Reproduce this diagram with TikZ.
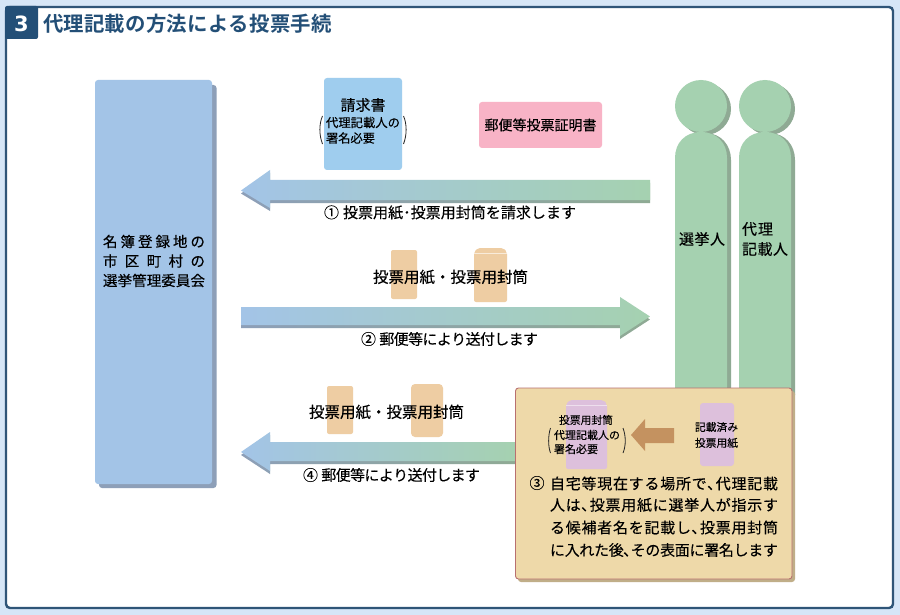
\documentclass[tikz,border=0pt]{standalone}
\usepackage{fontspec}
\setmainfont[FakeBold=0.2]{Noto Sans CJK JP}
\newfontfamily\boldjp{Noto Sans CJK JP Bold}
\newfontfamily\numfont{DejaVu Sans Bold}
\definecolor{pagebg}{HTML}{D6E6F7}
\definecolor{frame}{HTML}{2F5578}
\definecolor{tab}{HTML}{234F77}
\definecolor{blue}{HTML}{A3C4E7}
\definecolor{blueshadow}{HTML}{8D9FB8}
\definecolor{sky}{HTML}{9FCDEE}
\definecolor{pinkbox}{HTML}{F8B3C6}
\definecolor{green}{HTML}{A5D1B0}
\definecolor{greenshadow}{HTML}{8FAA94}
\definecolor{orangepaper}{HTML}{EECDA3}
\definecolor{sand}{HTML}{EED9A9}
\definecolor{sandshadow}{HTML}{C0AE88}
\definecolor{sandedge}{HTML}{B87070}
\definecolor{mauve}{HTML}{DDC0DC}
\definecolor{brownarrow}{HTML}{C49260}
\def\fitA#1{#1\futurelet\fitnext\fitB}
\def\fitB{\ifx\fitnext\relax\let\fitgo\fitEnd\else\hskip 0pt plus 1fil minus 1fil\let\fitgo\fitA\fi\fitgo}
\def\fitEnd\relax{}
\newcommand{\fit}[2]{\makebox[#1pt][s]{\fitA#2\relax}}
\newcommand{\fs}[1]{\fontsize{#1}{#1}\selectfont}
\tikzset{
  lbl/.style={inner sep=0pt,outer sep=0pt,text=black},
  parenline/.style={draw=black!85,line width=0.8pt},
  arrowshadow/.style={left color=blueshadow,right color=greenshadow,yshift=-3pt},
  arrowbody/.style={left color=blue,right color=green},
}
\begin{document}
\begin{tikzpicture}[x=1pt,y=-1pt]
\useasboundingbox (0,0) rectangle (900,615);
\fill[pagebg] (0,0) rectangle (900,615);
\draw[frame,line width=2.4pt,fill=white,rounded corners=4pt] (6,7) rectangle (893,608);
\fill[tab,rounded corners=2pt] (5,6) rectangle (38,39);
\node[lbl,text=white,font=\numfont\fs{21}] (num) at (21.5,24) {3};
\node[lbl,anchor=west,text=tab,font=\boldjp\fs{20.4}] (title) at (43,24) {\fit{289}{代理記載の方法による投票手続}};

% registry office
\fill[blueshadow,rounded corners=3pt] (99,85) rectangle (216.5,488);
\fill[blue,rounded corners=3pt] (95,80) rectangle (212,484);
\node[lbl,font=\fs{14.5},align=center] (office) at (154,261) {\fit{102}{名簿登録地の}\\[5pt]\fit{102}{市区町村の}\\[5pt]\fit{102}{選挙管理委員会}};

% request and certificate
\fill[sky,rounded corners=3pt] (324,78) rectangle (402,170);
\node[lbl,font=\fs{15}] (req) at (363,105) {請求書};
\node[lbl,anchor=west,font=\fs{12.3}] (req1) at (326,122.5) {\fit{74}{代理記載人の}};
\node[lbl,anchor=west,font=\fs{12.3}] (req2) at (326,138) {\fit{49}{署名必要}};
\draw[parenline] (322.5,116) .. controls (319,124) and (319,135) .. (322.5,144);
\draw[parenline] (403.5,116) .. controls (407,124) and (407,135) .. (403.5,144);
\fill[pinkbox,rounded corners=3pt] (479,102) rectangle (602,148);
\node[lbl,font=\fs{14}] (cert) at (540.5,125) {\fit{112}{郵便等投票証明書}};

% persons
\foreach \x in {675,739}{
  \fill[greenshadow] (\x+30,109) circle[radius=26];
  \fill[greenshadow] (\x+4,395) -- (\x+4,160) .. controls (\x+4,145) and (\x+14,133) .. (\x+30,133) .. controls (\x+46,133) and (\x+56,145) .. (\x+56,160) -- (\x+56,395) -- cycle;
  \fill[green] (\x+26,106) circle[radius=26];
  \fill[green] (\x,395) -- (\x,158) .. controls (\x,143) and (\x+10,132) .. (\x+26,132) .. controls (\x+42,132) and (\x+52,143) .. (\x+52,158) -- (\x+52,395) -- cycle;
}
\node[lbl,font=\fs{15}] (voter) at (702,239) {\fit{46}{選挙人}};
\node[lbl,anchor=west,font=\fs{15}] (proxy1) at (742,229) {\fit{31}{代理}};
\node[lbl,anchor=west,font=\fs{15}] (proxy2) at (742,249) {\fit{46}{記載人}};

% arrow 1
\shade[arrowshadow] (241,190.5) -- (270,170) -- (270,180) -- (650,180) -- (650,200) -- (270,200) -- (270,208) -- cycle;
\shade[arrowbody] (241,190.5) -- (270,170) -- (270,180) -- (650,180) -- (650,200) -- (270,200) -- (270,208) -- cycle;
\node[lbl,anchor=west,font=\fs{15}] (t1) at (324,212.5) {\fit{252}{{①\hspace{4pt}}投票用紙･投票用封筒を請求します}};

% papers row 2
\fill[orangepaper,rounded corners=2pt] (391,250) rectangle (417,299);
\fill[orangepaper,rounded corners=2pt] (474,302) -- (474,252) -- (478,248) -- (503,248) -- (507,252) -- (507,302) -- cycle;
\draw[white!60!orangepaper,line width=0.5pt] (474,253) -- (507,253);
\node[lbl,anchor=west,font=\fs{15.5}] (pp2) at (373,277) {\fit{155}{投票用紙・投票用封筒}};

% arrow 2
\shade[arrowshadow] (241,307) -- (620,307) -- (620,297) -- (650,316.5) -- (620,336) -- (620,325) -- (241,325) -- cycle;
\shade[arrowbody] (241,307) -- (620,307) -- (620,297) -- (650,316.5) -- (620,336) -- (620,325) -- (241,325) -- cycle;
\node[lbl,anchor=west,font=\fs{15}] (t2) at (361,339) {\fit{177}{{②\hspace{4pt}}郵便等により送付します}};

% papers row 4
\fill[orangepaper,rounded corners=2pt] (327,386) rectangle (353,434);
\fill[orangepaper,rounded corners=4pt] (411,384) rectangle (443,437);
\node[lbl,anchor=west,font=\fs{15.5}] (pp4) at (309,412) {\fit{155}{投票用紙・投票用封筒}};

% arrow 4
\shade[arrowshadow] (241,452) -- (270,432) -- (270,442) -- (516,442) -- (516,461) -- (270,461) -- (270,471) -- cycle;
\shade[arrowbody] (241,452) -- (270,432) -- (270,442) -- (516,442) -- (516,461) -- (270,461) -- (270,471) -- cycle;
\node[lbl,anchor=west,font=\fs{15}] (t4) at (303,475) {\fit{177}{{④\hspace{4pt}}郵便等により送付します}};

% step 3 panel
\fill[sandshadow,rounded corners=3pt] (518,391) rectangle (795,582);
\draw[sandedge,line width=0.9pt,fill=sand,rounded corners=3pt] (515.5,388) rectangle (792,579);
\fill[mauve,rounded corners=2pt] (566,469) -- (566,404) -- (570,400) -- (603,400) -- (607,404) -- (607,469) -- cycle;
\draw[white!50!mauve,line width=0.5pt] (566,405) -- (607,405);
\fill[mauve,rounded corners=3pt] (700,403) rectangle (734,466);
\fill[brownarrow] (631,435) -- (645,419) -- (645,428) -- (674,428) -- (674,443) -- (645,443) -- (645,451) -- cycle;
\node[lbl,font=\fs{10.8}] (env1) at (586,420) {\fit{54}{投票用封筒}};
\node[lbl,anchor=west,font=\fs{11}] (env2) at (554,435) {\fit{66}{代理記載人の}};
\node[lbl,anchor=west,font=\fs{11}] (env3) at (554,449) {\fit{44}{署名必要}};
\draw[parenline] (550.5,428) .. controls (548,436) and (548,446) .. (550.5,453);
\draw[parenline] (623,428) .. controls (626,436) and (626,446) .. (623,453);
\node[lbl,font=\fs{10.7}] (done1) at (716.5,427) {\fit{43}{記載済み}};
\node[lbl,font=\fs{10.7}] (done2) at (716.5,443) {\fit{43}{投票用紙}};
\node[lbl,font=\fs{15}] (t3n) at (537,483) {③};
\node[lbl,anchor=west,font=\fs{15}] (t3a) at (550,483.5) {\fit{228}{自宅等現在する場所で､代理記載}};
\node[lbl,anchor=west,font=\fs{15}] (t3b) at (550,505) {\fit{228}{人は､投票用紙に選挙人が指示す}};
\node[lbl,anchor=west,font=\fs{15}] (t3c) at (550,527.5) {\fit{228}{る候補者名を記載し､投票用封筒}};
\node[lbl,anchor=west,font=\fs{15}] (t3d) at (550,550) {\fit{228}{に入れた後､その表面に署名します}};
\end{tikzpicture}
\end{document}
